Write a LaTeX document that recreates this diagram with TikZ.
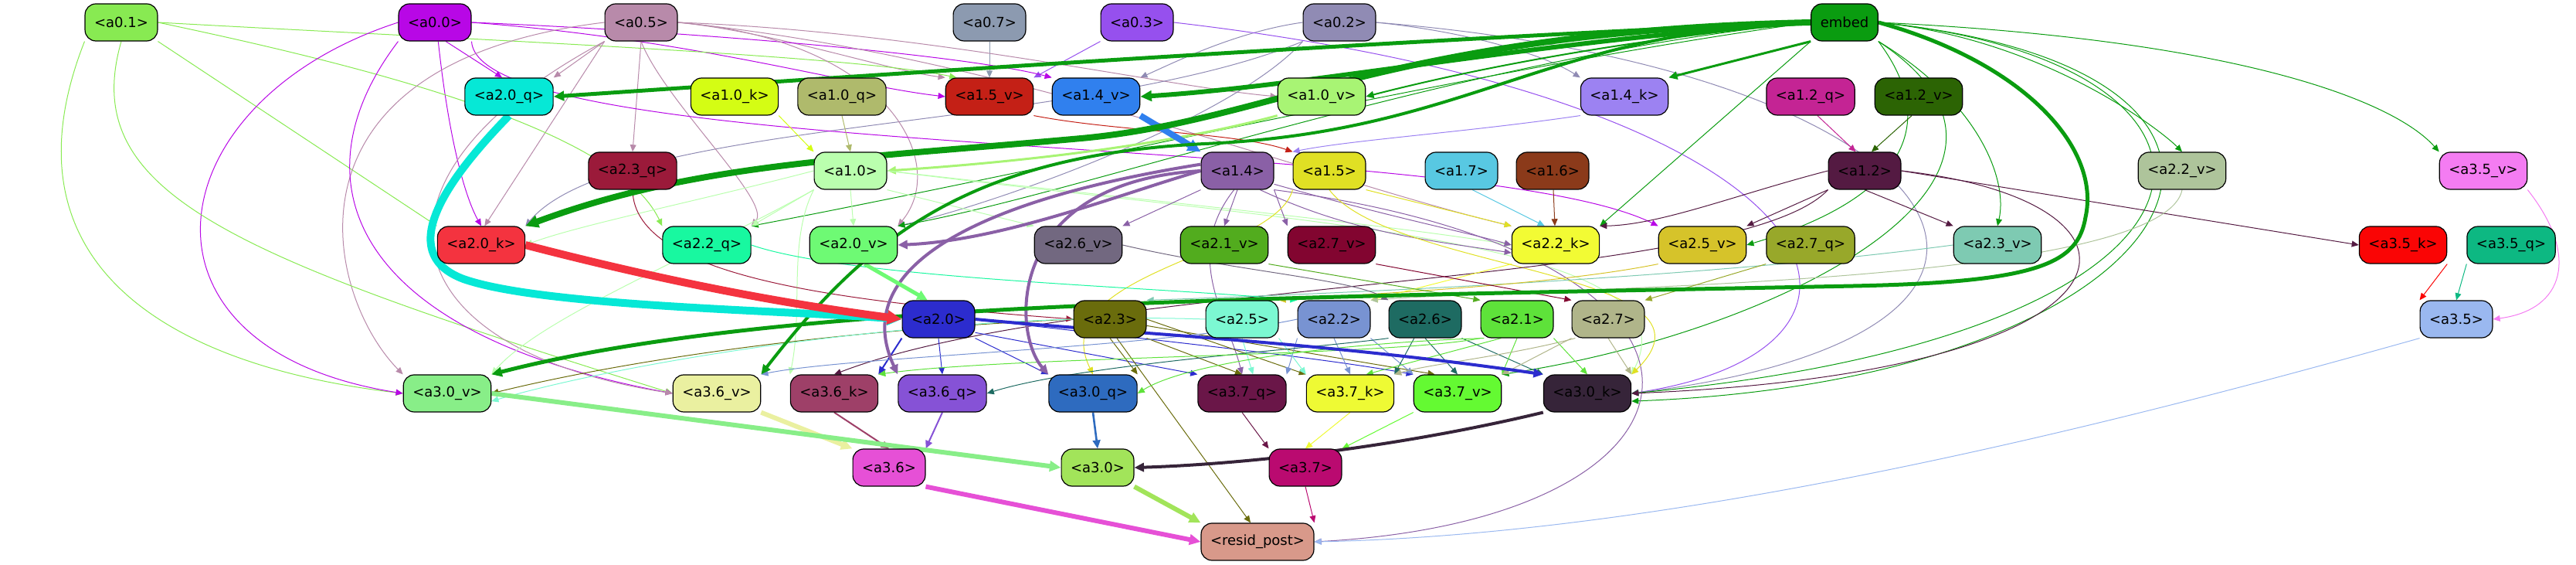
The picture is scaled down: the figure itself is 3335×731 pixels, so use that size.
\documentclass[tikz,border=0pt]{standalone}
\usepackage{fontspec}
\setmainfont{DejaVu Sans}
\usetikzlibrary{arrows.meta,backgrounds}

\definecolor{c01}{HTML}{88EA52}
\definecolor{c00}{HTML}{B807E6}
\definecolor{c05}{HTML}{B88AAA}
\definecolor{c07}{HTML}{8C9AB0}
\definecolor{c03}{HTML}{9650EE}
\definecolor{c02}{HTML}{908BB4}
\definecolor{cemb}{HTML}{0A9C10}
\definecolor{c20q}{HTML}{06E8D6}
\definecolor{c10k}{HTML}{D4FD14}
\definecolor{c10q}{HTML}{AFBA6C}
\definecolor{c15v}{HTML}{C42016}
\definecolor{c14v}{HTML}{3080EE}
\definecolor{c10v}{HTML}{A8F474}
\definecolor{c14k}{HTML}{9C82F2}
\definecolor{c12q}{HTML}{C42494}
\definecolor{c12v}{HTML}{2C6404}
\definecolor{c23q}{HTML}{9B1A3A}
\definecolor{c10}{HTML}{BAFFAE}
\definecolor{c14}{HTML}{8A60A6}
\definecolor{c15}{HTML}{E0E024}
\definecolor{c17}{HTML}{58C8E2}
\definecolor{c16}{HTML}{8B3A1A}
\definecolor{c12}{HTML}{541A42}
\definecolor{c22v}{HTML}{AEC49B}
\definecolor{c35v}{HTML}{F47CF2}
\definecolor{c20k}{HTML}{F4333F}
\definecolor{c22q}{HTML}{18F8A0}
\definecolor{c20v}{HTML}{6EFA74}
\definecolor{c26v}{HTML}{726880}
\definecolor{c21v}{HTML}{52AC1E}
\definecolor{c27v}{HTML}{820530}
\definecolor{c22k}{HTML}{F2FB34}
\definecolor{c25v}{HTML}{D6C32A}
\definecolor{c27q}{HTML}{98A82A}
\definecolor{c23v}{HTML}{7ECAB2}
\definecolor{c35k}{HTML}{FA0505}
\definecolor{c35q}{HTML}{0DB882}
\definecolor{c20}{HTML}{2C2CCE}
\definecolor{c23}{HTML}{6A6C0C}
\definecolor{c25}{HTML}{7CF8D2}
\definecolor{c22}{HTML}{7893D2}
\definecolor{c26}{HTML}{1E6B62}
\definecolor{c21}{HTML}{5EE23A}
\definecolor{c27}{HTML}{B0B58A}
\definecolor{c35}{HTML}{9AB8F0}
\definecolor{c30v}{HTML}{88EE88}
\definecolor{c36v}{HTML}{EAF0A0}
\definecolor{c36k}{HTML}{9E4068}
\definecolor{c36q}{HTML}{8652D6}
\definecolor{c30q}{HTML}{2E6BBF}
\definecolor{c37q}{HTML}{6A1648}
\definecolor{c37k}{HTML}{EEFA34}
\definecolor{c37v}{HTML}{64FA32}
\definecolor{c30k}{HTML}{362439}
\definecolor{c36}{HTML}{E650D6}
\definecolor{c30}{HTML}{A2E45A}
\definecolor{c37}{HTML}{BA0A70}
\definecolor{cres}{HTML}{D8998A}

\begin{document}
\begin{tikzpicture}[x=0.5pt,y=0.5pt,
    box/.style={draw=black, line width=0.6pt, rounded corners=7pt, minimum height=24pt,
      inner xsep=6pt, inner ysep=0pt, font=\fontsize{9}{10}\selectfont, text=black},
    ed/.style={draw=#1, line width=0.5pt, -{Triangle[length=4pt 1.1, width=3.4pt 1.1]}}]

    \useasboundingbox (0,0) rectangle (3335,731);

    % Row 1: inputs
    \node[box, fill=c01] (a01) at (157,702) {<a0.1>};
    \node[box, fill=c00] (a00) at (563,702) {<a0.0>};
    \node[box, fill=c05] (a05) at (830,702) {<a0.5>};
    \node[box, fill=c07] (a07) at (1281,702) {<a0.7>};
    \node[box, fill=c03] (a03) at (1472,702) {<a0.3>};
    \node[box, fill=c02] (a02) at (1734,702) {<a0.2>};
    \node[box, fill=cemb] (embed) at (2388,702) {embed};

    % Row 2
    \node[box, fill=c20q] (a20q) at (659,606) {<a2.0\_q>};
    \node[box, fill=c10k] (a10k) at (951,606) {<a1.0\_k>};
    \node[box, fill=c10q] (a10q) at (1090,606) {<a1.0\_q>};
    \node[box, fill=c15v] (a15v) at (1281,606) {<a1.5\_v>};
    \node[box, fill=c14v] (a14v) at (1419,606) {<a1.4\_v>};
    \node[box, fill=c10v] (a10v) at (1711,606) {<a1.0\_v>};
    \node[box, fill=c14k] (a14k) at (2103,606) {<a1.4\_k>};
    \node[box, fill=c12q] (a12q) at (2344,606) {<a1.2\_q>};
    \node[box, fill=c12v] (a12v) at (2484,606) {<a1.2\_v>};

    % Row 3
    \node[box, fill=c23q] (a23q) at (819,510) {<a2.3\_q>};
    \node[box, fill=c10] (a10) at (1101,510) {<a1.0>};
    \node[box, fill=c14] (a14) at (1602,510) {<a1.4>};
    \node[box, fill=c15] (a15) at (1721,510) {<a1.5>};
    \node[box, fill=c17] (a17) at (1892,510) {<a1.7>};
    \node[box, fill=c16] (a16) at (2010,510) {<a1.6>};
    \node[box, fill=c12] (a12) at (2414,510) {<a1.2>};
    \node[box, fill=c22v] (a22v) at (2825,510) {<a2.2\_v>};
    \node[box, fill=c35v] (a35v) at (3215,510) {<a3.5\_v>};

    % Row 4
    \node[box, fill=c20k] (a20k) at (623,414) {<a2.0\_k>};
    \node[box, fill=c22q] (a22q) at (915,414) {<a2.2\_q>};
    \node[box, fill=c20v] (a20v) at (1105,414) {<a2.0\_v>};
    \node[box, fill=c26v] (a26v) at (1396,414) {<a2.6\_v>};
    \node[box, fill=c21v] (a21v) at (1585,414) {<a2.1\_v>};
    \node[box, fill=c27v] (a27v) at (1724,414) {<a2.7\_v>};
    \node[box, fill=c22k] (a22k) at (2014,414) {<a2.2\_k>};
    \node[box, fill=c25v] (a25v) at (2204,414) {<a2.5\_v>};
    \node[box, fill=c27q] (a27q) at (2344,414) {<a2.7\_q>};
    \node[box, fill=c23v] (a23v) at (2586,414) {<a2.3\_v>};
    \node[box, fill=c35k] (a35k) at (3111,414) {<a3.5\_k>};
    \node[box, fill=c35q] (a35q) at (3251,414) {<a3.5\_q>};

    % Row 5
    \node[box, fill=c20] (a20) at (1215,318) {<a2.0>};
    \node[box, fill=c23] (a23) at (1437,318) {<a2.3>};
    \node[box, fill=c25] (a25) at (1608,318) {<a2.5>};
    \node[box, fill=c22] (a22) at (1727,318) {<a2.2>};
    \node[box, fill=c26] (a26) at (1845,318) {<a2.6>};
    \node[box, fill=c21] (a21) at (1964,318) {<a2.1>};
    \node[box, fill=c27] (a27) at (2082,318) {<a2.7>};
    \node[box, fill=c35] (a35) at (3180,318) {<a3.5>};

    % Row 6
    \node[box, fill=c30v] (a30v) at (579,222) {<a3.0\_v>};
    \node[box, fill=c36v] (a36v) at (928,222) {<a3.6\_v>};
    \node[box, fill=c36k] (a36k) at (1080,222) {<a3.6\_k>};
    \node[box, fill=c36q] (a36q) at (1220,222) {<a3.6\_q>};
    \node[box, fill=c30q] (a30q) at (1415,222) {<a3.0\_q>};
    \node[box, fill=c37q] (a37q) at (1608,222) {<a3.7\_q>};
    \node[box, fill=c37k] (a37k) at (1748,222) {<a3.7\_k>};
    \node[box, fill=c37v] (a37v) at (1887,222) {<a3.7\_v>};
    \node[box, fill=c30k] (a30k) at (2055,222) {<a3.0\_k>};

    % Row 7 and output
    \node[box, fill=c36] (a36) at (1151,126) {<a3.6>};
    \node[box, fill=c30] (a30) at (1421,126) {<a3.0>};
    \node[box, fill=c37] (a37) at (1690,126) {<a3.7>};
    \node[box, fill=cres] (resid) at (1628,30) {<resid\_post>};

    \begin{scope}[on background layer]
    % from the layer-0 heads
    \draw[ed=c07] (a07) -- (a15v);
    \draw[ed=c03] (a03.south west) -- (a15v.north east);
    \draw[ed=c00] (a00.east) .. controls (900,680) and (1100,620) .. (a15v.west);
    \draw[ed=c05] (a05.east) .. controls (1000,690) and (1150,640) .. (a15v.north west);
    \draw[ed=c01] (a01.east) .. controls (600,680) and (1100,660) .. (a15v.150);
    \draw[ed=c00] (a00.east) .. controls (900,690) and (1250,660) .. (a14v.north west);
    \draw[ed=c02] (a02.west) .. controls (1600,690) and (1520,650) .. (a14v.north east);
    \draw[ed=c02] (a02.east) .. controls (1900,690) and (2000,660) .. (a14k.north west);
    \draw[ed=c05] (a05.east) .. controls (1200,690) and (1500,620) .. (a10v.west);
    \draw[ed=c00] (a00.-60) -- (a20q.110);
    \draw[ed=c05] (a05.south west) -- (a20q.north east);
    \draw[ed=c00] (a00.-80) .. controls (580,560) and (600,480) .. (a20k.north);
    \draw[ed=c05] (a05.south west) -- (a20k.80);
    \draw[ed=c01] (a01.south east) -- (a20k.north west);
    \draw[ed=c02] (a02.south west) .. controls (1400,560) and (800,580) .. (a20k.north east);
    \draw[ed=c05] (a05.south) -- (a23q.north);
    \draw[ed=c01] (a01.east) .. controls (500,640) and (800,560) .. (a22q.north west);
    \draw[ed=c05] (a05.south) .. controls (860,600) and (1000,470) .. (a22q.north east);
    \draw[ed=c05] (a05.east) .. controls (1150,680) and (1230,520) .. (a20v.north east);
    \draw[ed=c02] (a02.south west) .. controls (1600,580) and (1300,470) .. (a20v.north east);
    \draw[ed=c00] (a00.south east) .. controls (620,520) and (1900,560) .. (a25v.north west);
    \draw[ed=c05] (a05.east) .. controls (1300,660) and (1700,500) .. (a22k.north west);
    \draw[ed=c01] (a01.south west) .. controls (0,400) and (200,260) .. (a30v.west);
    \draw[ed=c00] (a00.west) .. controls (200,600) and (150,280) .. (a30v.west);
    \draw[ed=c05] (a05.west) .. controls (350,650) and (420,350) .. (a30v.north west);
    \draw[ed=c01] (a01.south) .. controls (100,480) and (300,400) .. (a36v.west);
    \draw[ed=c00] (a00.south west) .. controls (380,500) and (450,300) .. (a36v.west);
    \draw[ed=c05] (a05.south west) .. controls (450,500) and (500,280) .. (a36v.west);
    \draw[ed=c03] (a03.east) .. controls (2400,600) and (2500,280) .. (a30k.east);
    \draw[ed=c02] (a02.east) .. controls (2550,640) and (2750,300) .. (a30k.east);

    % from embed
    \draw[ed=cemb, line width=1pt] (embed.west) .. controls (2100,680) and (1900,640) .. (a10v.east);
    \draw[ed=cemb, line width=1.5pt] (embed.south west) -- (a14k.north east);
    \draw[ed=cemb] (embed.south west) -- (a22k.north east);
    \draw[ed=cemb] (embed.west) .. controls (1900,660) and (1400,480) .. (a20v.north east);
    \draw[ed=cemb] (embed.west) .. controls (1900,640) and (1400,520) .. (a22q.north east);
    \draw[ed=cemb] (embed.south east) .. controls (2520,560) and (2450,470) .. (a25v.east);
    \draw[ed=cemb] (embed.south east) .. controls (2560,600) and (2600,500) .. (a23v.north);
    \draw[ed=cemb] (embed.east) .. controls (2650,680) and (2800,560) .. (a22v.north);
    \draw[ed=cemb] (embed.east) .. controls (2900,680) and (3100,600) .. (a35v.north west);
    \draw[ed=cemb] (embed.east) .. controls (2950,650) and (2950,300) .. (a30k.east);
    \draw[ed=cemb] (embed.east) .. controls (3050,640) and (2850,240) .. (a30k.-10);
    \draw[ed=cemb] (embed.south east) .. controls (2700,500) and (2300,300) .. (a37v.north east);

    % layer 1
    \draw[ed=c10v, line width=1.5pt] (a10v.south west) .. controls (1500,540) and (1300,520) .. (a10.east);
    \draw[ed=c10k] (a10k.south east) -- (a10.north west);
    \draw[ed=c10q] (a10q.south) -- (a10.north);
    \draw[ed=c15v] (a15v.south east) .. controls (1450,560) and (1600,560) .. (a15.north west);
    \draw[ed=c14k] (a14k.south west) .. controls (1900,560) and (1750,550) .. (a15.north west);
    \draw[ed=c12q] (a12q.-70) -- (a12.115);
    \draw[ed=c12v] (a12v.-110) -- (a12.70);
    \draw[ed=c10] (a10.west) .. controls (900,470) and (750,440) .. (a20k.east);
    \draw[ed=c10] (a10.south west) -- (a22q.north east);
    \draw[ed=c10] (a10.south) -- (a20v.north);
    \draw[ed=c10] (a10.south east) -- (a26v.north west);
    \draw[ed=c10] (a10.east) .. controls (1500,470) and (1800,440) .. (a22k.west);
    \draw[ed=c10] (a10.south west) .. controls (900,400) and (700,320) .. (a30v.north east);
    \draw[ed=c10] (a10.east) .. controls (1700,440) and (2200,420) .. (a30k.north east);
    \draw[ed=c10] (a10.south west) .. controls (1020,420) and (1040,330) .. (a36k.north west);
    \draw[ed=c14] (a14.south west) -- (a26v.north east);
    \draw[ed=c14] (a14.south) -- (a21v.north);
    \draw[ed=c14] (a14.south east) -- (a27v.north west);
    \draw[ed=c14] (a14.-20) .. controls (1800,450) and (1900,430) .. (a22k.west);
    \draw[ed=c14] (a14.-40) .. controls (1750,430) and (1850,420) .. (a22k.190);
    \draw[ed=c14] (a14.-100) .. controls (1530,400) and (1590,320) .. (a37q.north);
    \draw[ed=c14] (a14.south east) .. controls (2300,400) and (2250,60) .. (resid.east);
    \draw[ed=c17] (a17.-60) -- (a22k.120);
    \draw[ed=c16] (a16) -- (a22k);
    \draw[ed=c15] (a15.south east) -- (a22k.north west);
    \draw[ed=c15] (a15.south west) .. controls (1650,400) and (1350,380) .. (a30q.north);
    \draw[ed=c15] (a15.south) .. controls (1800,380) and (2250,380) .. (a30k.north east);
    \draw[ed=c12] (a12.west) .. controls (2250,480) and (2150,440) .. (a22k.north east);
    \draw[ed=c12] (a12.south west) -- (a25v.north east);
    \draw[ed=c12] (a12.south) -- (a23v.north west);
    \draw[ed=c12] (a12.east) -- (a35k.west);
    \draw[ed=c12] (a12.east) .. controls (2820,470) and (2800,250) .. (a30k.east);
    \draw[ed=c12] (a12.south west) .. controls (2250,360) and (1400,370) .. (a36k.north);

    % layer 2 inputs to heads
    \draw[ed=c23q] (a23q.south) .. controls (820,370) and (1100,340) .. (a23.west);
    \draw[ed=c23v] (a23v.west) .. controls (2200,370) and (1700,350) .. (a23.north east);
    \draw[ed=c25v] (a25v.south west) .. controls (2000,360) and (1750,350) .. (a25.north east);
    \draw[ed=c22k] (a22k.south west) -- (a22.north east);
    \draw[ed=c22v] (a22v.south) .. controls (2800,360) and (2000,360) .. (a22.north east);
    \draw[ed=c26v] (a26v.east) .. controls (1600,380) and (1750,370) .. (a26.north west);
    \draw[ed=c21v] (a21v.south east) -- (a21.north west);
    \draw[ed=c27v] (a27v.south east) -- (a27.north west);
    \draw[ed=c27q] (a27q.south west) -- (a27.north east);
    \draw[ed=c22q] (a22q.east) .. controls (1100,370) and (1500,360) .. (a22.north west);

    % layer 2 heads to layer 3
    \draw[ed=c20, line width=1pt] (a20.south west) -- (a36k.north east);
    \draw[ed=c20] (a20.south) -- (a36q.north);
    \draw[ed=c20] (a20.south east) -- (a30q.north west);
    \draw[ed=c20] (a20.-20) -- (a37q.north west);
    \draw[ed=c20] (a20.east) .. controls (1500,290) and (1700,270) .. (a37v.north west);
    \draw[ed=c23] (a23.west) .. controls (1000,300) and (750,250) .. (a30v.east);
    \draw[ed=c23] (a23.south) -- (a30q.north east);
    \draw[ed=c23] (a23.south east) -- (a37q.north);
    \draw[ed=c23] (a23.east) -- (a37k.north west);
    \draw[ed=c23] (a23.-10) -- (a37v.140);
    \draw[ed=c23] (a23.-70) -- (resid.110);
    \draw[ed=c25] (a25.west) .. controls (1200,330) and (800,260) .. (a30v.-10);
    \draw[ed=c25] (a25.south) -- (a37q.60);
    \draw[ed=c25] (a25.south east) -- (a37k.north west);
    \draw[ed=c22] (a22.west) .. controls (1500,280) and (1100,270) .. (a36v.north east);
    \draw[ed=c22] (a22.south west) -- (a37q.north east);
    \draw[ed=c22] (a22.south) -- (a37k.north);
    \draw[ed=c22] (a22.south east) -- (a37v.north west);
    \draw[ed=c26] (a26.south west) .. controls (1700,280) and (1400,260) .. (a36q.east);
    \draw[ed=c26] (a26.-120) -- (a37k.north east);
    \draw[ed=c26] (a26.south) -- (a37v.north);
    \draw[ed=c26] (a26.south east) -- (a30k.north west);
    \draw[ed=c21] (a21.south west) .. controls (1800,270) and (1300,270) .. (a36k.north east);
    \draw[ed=c21] (a21.-150) .. controls (1800,290) and (1550,270) .. (a30q.east);
    \draw[ed=c21] (a21.-130) -- (a37k.50);
    \draw[ed=c21] (a21.south) -- (a37v.north east);
    \draw[ed=c21] (a21.south east) -- (a30k.north);
    \draw[ed=c27] (a27.-150) .. controls (1950,270) and (1850,260) .. (a37k.north east);
    \draw[ed=c27] (a27.south west) -- (a37v.north east);
    \draw[ed=c27] (a27.south) -- (a30k.north east);

    % layer 3 to output
    \draw[ed=c35k] (a35k.south east) -- (a35.north west);
    \draw[ed=c35q] (a35q.south west) -- (a35.north);
    \draw[ed=c35v] (a35v.south east) .. controls (3340,400) and (3320,330) .. (a35.east);
    \draw[ed=c37q] (a37q.south) -- (a37.north west);
    \draw[ed=c37k] (a37k.south) -- (a37.north);
    \draw[ed=c37v] (a37v.south west) -- (a37.north east);
    \draw[ed=c36k, line width=1pt] (a36k.south) -- (a36.north);
    \draw[ed=c36q, line width=1pt] (a36q.south) -- (a36.north east);
    \draw[ed=c30q, line width=1.3pt] (a30q.south) -- (a30.north);
    \draw[ed=c37] (a37.south) -- (resid.north east);
    \draw[ed=c35] (a35.south west) .. controls (2800,200) and (2200,40) .. (resid.east);

    % heavy paths
    \draw[ed=c14v, line width=4pt] (a14v.south east) -- (a14.north west);
    \draw[ed=c14, line width=2pt] (a14.west) .. controls (1450,480) and (1300,420) .. (a20v.east);
    \draw[ed=c14, line width=2pt] (a14.170) .. controls (1250,470) and (1100,380) .. (a36q.north west);
    \draw[ed=c14, line width=2pt] (a14.west) .. controls (1300,495) and (1310,300) .. (a30q.north west);
    \draw[ed=cemb, line width=3pt] (embed.west) .. controls (2000,680) and (1700,620) .. (a14v.east);
    \draw[ed=cemb, line width=2.5pt] (embed.west) .. controls (1800,680) and (1000,625) .. (a20q.east);
    \draw[ed=cemb, line width=4pt] (embed.west) .. controls (1800,690) and (1650,575) .. (1400,552) .. controls (1100,525) and (900,520) .. (a20k.north east);
    \draw[ed=cemb, line width=2pt] (embed.west) .. controls (2000,690) and (1900,560) .. (1560,545) .. controls (1250,530) and (1120,420) .. (a36v.north east);
    \draw[ed=cemb, line width=2.5pt] (embed.east) .. controls (2620,650) and (2720,540) .. (2700,450) .. controls (2690,390) and (2640,366) .. (2400,361) .. controls (1600,345) and (1000,340) .. (a30v.north east);
    \draw[ed=c20q, line width=5pt] (a20q.south) .. controls (560,480) and (520,400) .. (600,370) .. controls (700,335) and (1000,330) .. (a20.west);
    \draw[ed=c20k, line width=5pt] (a20k.east) .. controls (850,370) and (1000,340) .. (a20.west);
    \draw[ed=c20v, line width=2.5pt] (a20v.-60) -- (a20.120);
    \draw[ed=c20, line width=2pt] (a20.east) .. controls (1450,300) and (1700,290) .. (a30k.north west);
    \draw[ed=c36v, line width=3pt] (a36v.south east) -- (a36.north west);
    \draw[ed=c30v, line width=3pt] (a30v.east) -- (a30.west);
    \draw[ed=c30k, line width=2pt] (a30k.south west) .. controls (1800,150) and (1600,130) .. (a30.east);
    \draw[ed=c36, line width=3pt] (a36.south east) -- (resid.west);
    \draw[ed=c30, line width=3pt] (a30.south east) -- (resid.north west);
    \end{scope}

\end{tikzpicture}
\end{document}
